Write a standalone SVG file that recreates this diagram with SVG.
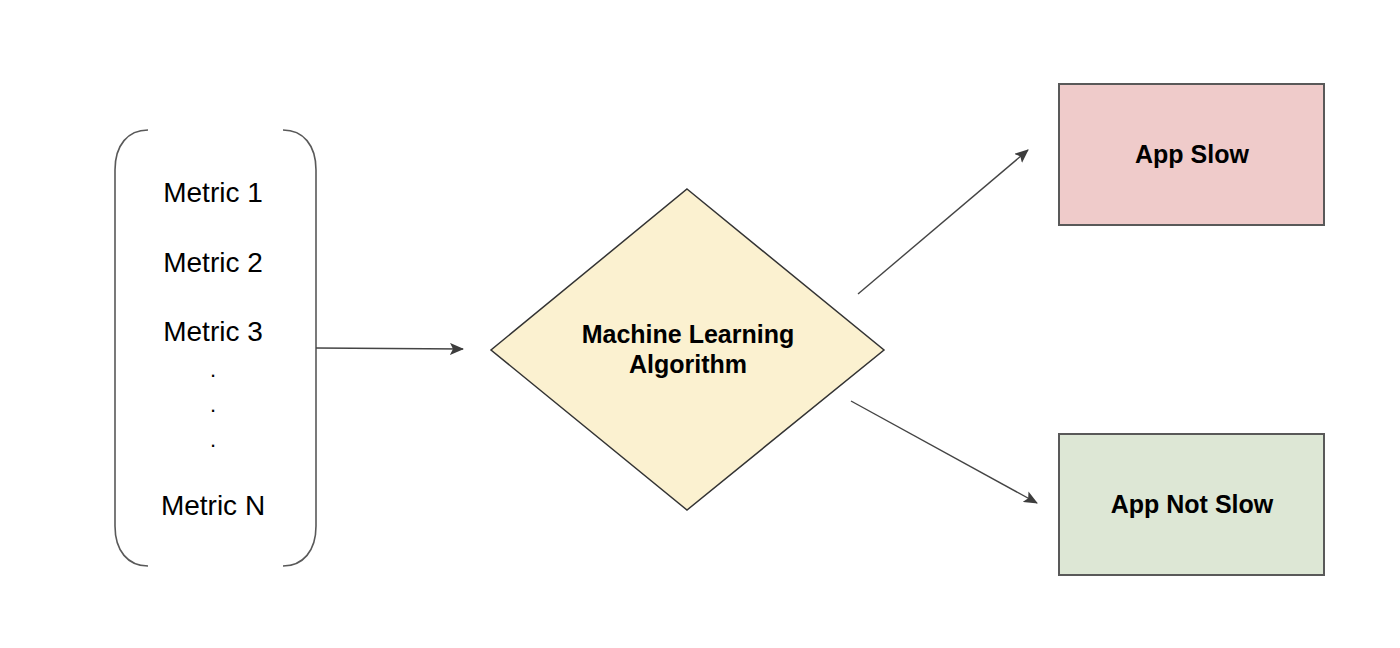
<svg xmlns="http://www.w3.org/2000/svg" width="1400" height="648" viewBox="0 0 1400 648">
  <style>
    .metric { font-family: "Liberation Sans", Arial, sans-serif; font-size: 28px; fill: #000; text-anchor: middle; }
    .dot { font-family: "Liberation Sans", Arial, sans-serif; font-size: 22px; fill: #000; text-anchor: middle; }
    .label { font-family: "Liberation Sans", Arial, sans-serif; font-size: 25px; font-weight: bold; fill: #000; text-anchor: middle; }
    .bracket { fill: none; stroke: #595959; stroke-width: 1.6; }
    .box { stroke: #595959; stroke-width: 2; }
    .edge { fill: none; stroke: #444; stroke-width: 1.4; }
  </style>
  <defs>
    <marker id="arrow" markerWidth="14" markerHeight="12" refX="13" refY="6" orient="auto" markerUnits="userSpaceOnUse">
      <path d="M0,0 L14,6 L0,12 L3,6 Z" fill="#3d3d3d"/>
    </marker>
  </defs>
  <rect width="1400" height="648" fill="#fff"/>

  <!-- Input metrics enclosed in parentheses -->
  <g id="metrics">
    <path class="bracket" d="M148,130 C128,130 115,145 115,170 L115,526 C115,551 128,566 148,566"/>
    <path class="bracket" d="M283,130 C303,130 316,145 316,170 L316,526 C316,551 303,566 283,566"/>
    <text class="metric" x="213" y="202">Metric 1</text>
    <text class="metric" x="213" y="272">Metric 2</text>
    <text class="metric" x="213" y="341">Metric 3</text>
    <text class="dot" x="213" y="377">.</text>
    <text class="dot" x="213" y="412">.</text>
    <text class="dot" x="213" y="447">.</text>
    <text class="metric" x="213" y="515">Metric N</text>
  </g>

  <!-- Decision diamond -->
  <g id="algorithm">
    <polygon points="687,189 884,350 687,510 491,350" fill="#fbf1d0" stroke="#333" stroke-width="1.5"/>
    <text class="label" x="688" y="343">Machine Learning</text>
    <text class="label" x="688" y="373">Algorithm</text>
  </g>

  <!-- Outcomes -->
  <g id="app-slow">
    <rect class="box" x="1059" y="84" width="265" height="141" fill="#efcbca"/>
    <text class="label" x="1192" y="163">App Slow</text>
  </g>
  <g id="app-not-slow">
    <rect class="box" x="1059" y="434" width="265" height="141" fill="#dde7d5"/>
    <text class="label" x="1192" y="513">App Not Slow</text>
  </g>

  <!-- Connectors -->
  <g id="connectors">
    <line class="edge" x1="316" y1="348" x2="463" y2="349" marker-end="url(#arrow)"/>
    <line class="edge" x1="858" y1="294" x2="1028" y2="150" marker-end="url(#arrow)"/>
    <line class="edge" x1="851" y1="401" x2="1037" y2="503" marker-end="url(#arrow)"/>
  </g>
</svg>
